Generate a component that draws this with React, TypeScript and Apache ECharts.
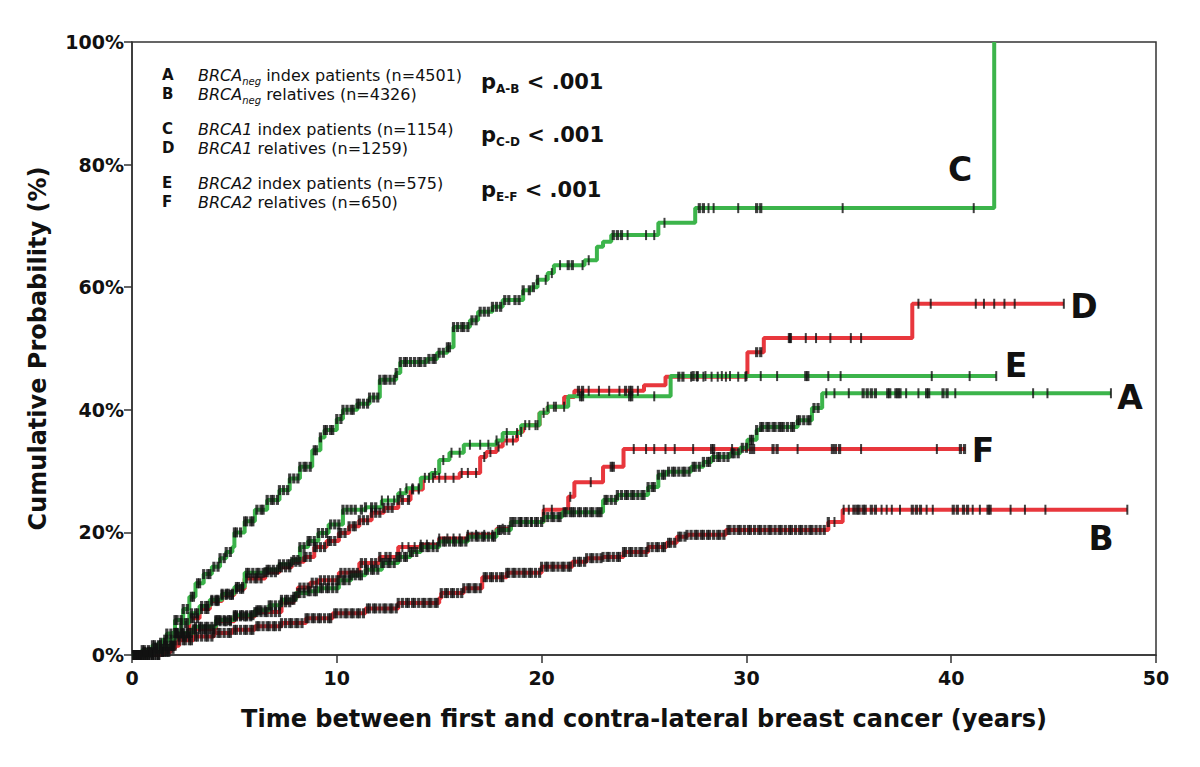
import React, { useEffect, useRef } from "react";
import * as echarts from "echarts";

// ---------- data (time in years, cumulative probability in %) ----------
const xTickValues = [0, 10, 20, 30, 40, 50];
const yTickValues = [0, 20, 40, 60, 80, 100];

// A: BRCAneg index patients (green)
const curveA: [number, number][] = [[0,0],[0.5,0.8],[1.0,1.6],[1.5,2.5],[2.1,3.6],[3.0,4.6],[4.1,5.7],[5.0,6.5],[6.0,7.3],[6.7,8.1],[7.3,9.0],[8.0,10.1],[8.6,10.4],[9.1,10.9],[10.1,12.2],[10.7,13.0],[11.4,13.9],[12.2,15.0],[13.0,16.0],[13.6,16.8],[14.1,17.6],[15.0,18.5],[16.4,19.3],[17.8,20.4],[18.5,21.7],[20.1,22.5],[21.0,23.3],[23.0,25.3],[23.7,26.1],[25.2,27.4],[25.7,29.4],[26.1,29.9],[27.3,30.7],[27.9,31.5],[28.3,32.3],[29.2,32.9],[29.7,33.8],[30.05,35.1],[30.5,36.7],[30.7,37.2],[32.5,38.3],[33.2,40.3],[33.7,42.7],[47.8,42.7]];
// B: BRCAneg relatives (red)
const curveB: [number, number][] = [[0,0],[0.5,0.4],[1.2,1.0],[2.1,2.4],[3.0,3.0],[4.0,3.6],[4.9,4.1],[6.0,4.7],[7.3,5.2],[8.5,6.0],[9.8,6.8],[11.4,7.6],[13.0,8.5],[15.0,9.3],[15.1,10.1],[16.2,10.9],[17.1,12.7],[18.3,13.4],[20.0,14.4],[21.5,15.2],[22.2,15.8],[23.0,16.0],[24.0,16.8],[25.2,17.6],[26.1,18.3],[26.6,19.3],[27.1,19.6],[29.0,20.4],[34.0,21.7],[34.7,23.7],[48.6,23.7]];
// C: BRCA1 index patients (green)
const curveC: [number, number][] = [[0,0],[0.5,0.5],[1.0,1.2],[1.3,2.0],[1.7,3.5],[2.1,5.7],[2.5,7.5],[2.8,9.5],[3.1,11.7],[3.5,13.2],[3.9,14.4],[4.3,15.8],[4.6,16.8],[4.9,17.6],[5.0,20.0],[5.5,21.8],[6.0,23.7],[6.6,25.3],[7.2,26.9],[7.7,28.8],[8.2,30.7],[8.8,33.4],[9.2,35.5],[9.4,36.7],[10.0,38.5],[10.3,40.0],[11.0,41.0],[11.6,42.0],[12.1,44.9],[12.9,46.0],[13.1,47.8],[14.4,48.3],[14.9,49.3],[15.4,50.2],[15.7,53.5],[16.5,54.6],[16.9,56.0],[17.6,56.8],[18.1,57.9],[19.1,59.5],[19.5,60.0],[19.8,61.2],[20.3,62.3],[20.6,63.6],[22.1,64.4],[22.7,66.6],[23.0,67.4],[23.4,68.5],[25.7,70.5],[27.5,72.9],[42.1,100]];
// D: BRCA1 relatives (red)
const curveD: [number, number][] = [[0,0],[1.5,0.5],[1.8,1.5],[2.2,3.5],[2.8,6.0],[3.3,7.5],[3.8,8.8],[4.4,9.8],[5.0,10.8],[5.5,12.5],[6.5,13.5],[7.2,14.3],[7.8,15.2],[8.4,16.0],[8.9,17.6],[9.5,18.6],[10.1,19.9],[10.6,21.0],[11.1,22.0],[11.7,23.2],[12.3,24.0],[13.0,25.3],[13.6,27.0],[14.2,28.9],[16.0,29.7],[17.0,32.3],[17.3,33.1],[17.8,34.0],[18.1,35.0],[18.8,36.4],[19.1,37.5],[19.9,39.5],[20.3,40.5],[21.1,42.1],[21.6,43.1],[25.0,44.0],[26.05,45.4],[30.05,49.4],[30.85,51.7],[38.1,57.3],[45.5,57.3]];
// E: BRCA2 index patients (green)
const curveE: [number, number][] = [[0,0],[1.0,0.5],[1.5,1.5],[1.95,3.6],[2.4,5.2],[2.8,6.8],[3.3,8.0],[3.8,9.0],[4.4,10.0],[5.0,11.1],[5.5,13.4],[6.5,13.9],[7.2,14.8],[7.8,15.5],[8.2,17.6],[8.6,18.6],[9.1,19.9],[9.6,21.3],[10.3,23.7],[11.4,24.1],[12.2,25.2],[13.0,26.4],[13.4,27.2],[14.1,28.9],[14.6,29.7],[15.0,31.8],[15.5,33.0],[16.2,34.3],[17.8,35.0],[18.1,36.2],[19.0,37.5],[19.9,39.5],[20.3,40.5],[21.3,42.2],[26.3,45.5],[42.2,45.5]];
// F: BRCA2 relatives (red)
const curveF: [number, number][] = [[0,0],[1.5,0.5],[1.9,1.5],[2.3,3.0],[3.0,4.2],[4.1,5.5],[5.0,6.3],[6.0,7.0],[7.3,8.6],[7.9,9.5],[8.1,11.0],[8.7,11.8],[9.1,12.2],[10.1,13.4],[11.1,15.0],[12.1,16.0],[13.0,17.6],[14.1,18.0],[15.0,19.0],[16.4,19.6],[17.8,20.6],[18.5,21.7],[20.1,23.7],[21.3,25.8],[21.6,28.2],[23.0,30.7],[24.0,33.6],[40.7,33.6]];

// censored observations, in tenths of a year
const censorA = [1,2,4,5,6,8,10,11,13,14,16,17,19,21,22,24,25,27,28,29,31,33,34,36,37,39,41,42,43,45,47,48,50,51,53,54,56,58,59,61,62,63,65,67,68,70,72,73,75,76,78,79,81,82,84,86,87,89,90,92,93,95,96,98,100,101,103,104,106,107,109,111,112,114,115,117,118,120,122,123,125,126,128,130,131,133,134,136,137,139,141,142,144,145,147,149,150,152,153,155,157,158,160,161,163,164,166,168,169,171,172,174,176,177,179,180,182,184,185,187,189,190,192,193,195,197,198,200,201,203,205,206,208,209,211,212,214,215,216,218,219,221,222,224,225,227,228,229,231,232,234,236,237,239,241,242,244,245,247,249,250,252,254,255,257,259,260,262,264,265,267,269,270,272,274,275,277,279,281,282,284,286,287,289,291,293,294,296,298,300,302,303,305,307,308,310,311,313,314,316,317,318,320,322,323,325,326,328,330,331,333,335,339,343,350,357,359,361,363,369,370,373,374,375,378,384,388,389,396,398,402,440,447,478];
const censorB = [1,3,4,6,7,9,10,12,14,15,17,18,20,21,23,25,26,28,29,31,32,34,36,37,39,40,42,43,45,47,48,50,51,53,55,56,58,59,61,62,64,66,67,69,70,72,73,75,77,78,80,81,83,85,86,88,89,91,92,94,96,97,99,100,102,104,105,107,108,110,111,113,115,116,118,119,121,123,124,126,127,129,130,132,134,135,137,138,140,142,143,145,146,148,149,151,153,154,156,157,159,161,162,164,165,167,168,170,172,173,175,176,178,180,181,183,184,186,187,189,191,192,194,195,197,199,200,202,203,205,206,208,210,211,213,214,216,218,219,221,222,224,225,227,229,230,232,233,235,237,238,240,241,243,244,246,248,249,251,252,254,256,257,259,260,262,263,265,267,268,270,271,273,275,276,278,279,281,282,284,286,287,289,291,292,294,296,297,299,301,302,304,306,307,309,311,312,314,316,317,319,321,322,324,326,327,329,331,332,334,336,338,340,343,347.5,350,352.5,354,355,357,358,361,363,366,368.5,371,375,381,383,385,388,391,401,403,406,408,410.5,414,418,419,429,436,446,486];
const censorC = [1,3,4,6,8,9,11,12,14,16,17,19,21,22,24,25,27,29,30,32,33,35,37,38,40,42,43,45,46,48,50,51,53,55,56,58,59,61,63,64,66,68,69,71,72,74,76,77,79,81,82,84,85,87,89,90,92,94,95,97,98,100,102,103,105,107,108,110,111,113,115,116,118,120,121,123,124,126,128,129,131,133,134,136,138,140,141,143,145,147,148,150,152,154,155,157,159,161,162,164,166,168,170,172,174,176,178,180,182,184,187,189,191,194,196,198,202,205,209,213,215,220,223,235,237,239,242,251,255,260,277,279,281.5,284,296,305,307,347,411];
const censorD = [2,3,5,7,8,10,12,13,15,17,19,20,22,24,25,27,29,30,32,34,36,37,39,41,42,44,46,48,49,51,53,54,56,58,60,61,63,65,66,68,70,72,73,75,77,78,80,82,84,85,87,89,90,92,94,96,97,99,101,102,104,106,108,109,111,113,115,117,119,121,123,125,127,130,132,135,137,140,143,147,150,153,157,161,164,168,172,175,179,183,186,190,194,198,203,207,218,220,223,228,233,238,241,243,244,247,267,269,273,276,279,283,286,290,296,299.5,305,307,321,321.5,329,334,341,351,356,384,390,412,416,421,426,431,455];
const censorE = [1,2,4,6,7,9,11,12,14,16,17,19,21,22,24,26,27,29,31,32,34,36,37,39,41,42,44,46,47,49,51,52,54,56,57,59,61,62,64,66,67,69,71,72,74,76,77,79,81,82,84,86,87,89,91,93,95,97,99,101,103,105,107,109,112,114,117,119,122,125,128,131,134,137,140,145,148,152,156,160,165,170,174,178,183,188,192,197,201,206,211,219,220,243,244,255,274,276,280,288,292,300,307,315,329,330,340,346,390.5,409,422];
const censorF = [2,3,5,6,8,10,11,13,15,16,18,20,21,23,25,26,28,30,31,33,35,36,38,40,41,43,45,46,48,50,51,53,55,56,58,60,61,63,65,66,68,70,72,73,75,77,79,80,82,84,86,88,90,92,94,96,98,100,102,104,106,108,110,112,114,117,119,121,124,126,129,132,135,138,141,144,147,150,154,157,160,164,168,172,176,181,186,190,195,201,205,214,224,234,235,245,251,255,260.5,265,274,283,284,293,302,303.5,313,315,325,342,343.5,345.5,356,393,404.5,406.5];

const legendRows = [
  { letter: "A", gene: "BRCA", sub: "neg", rest: " index patients (n=4501)" },
  { letter: "B", gene: "BRCA", sub: "neg", rest: " relatives (n=4326)" },
  { letter: "C", gene: "BRCA1", sub: "", rest: " index patients (n=1154)" },
  { letter: "D", gene: "BRCA1", sub: "", rest: " relatives (n=1259)" },
  { letter: "E", gene: "BRCA2", sub: "", rest: " index patients (n=575)" },
  { letter: "F", gene: "BRCA2", sub: "", rest: " relatives (n=650)" },
];
const pRows = [
  { pair: "A-B", text: " < .001" },
  { pair: "C-D", text: " < .001" },
  { pair: "E-F", text: " < .001" },
];

// ---------- styling ----------
const GREEN = "#3cb44b";
const RED = "#e8373d";
const FONT = "'DejaVu Sans', sans-serif";
const GRID = { left: 132, right: 44, top: 42, bottom: 112 };
const legendY = [75, 94, 129, 148, 183, 202];
const pY = [82, 135, 190];

function stepAt(curve: [number, number][], t: number): number {
  let v = curve[0][1];
  for (const [x, y] of curve) {
    if (x <= t) v = y;
    else break;
  }
  return v;
}

// each censor mark: [years, probability, mark width]; crowded marks are drawn a bit wider
function censorPoints(curve: [number, number][], tenths: number[]) {
  return tenths.map((t, i) => {
    const yr = t / 10;
    const prev = i > 0 ? t - tenths[i - 1] : 99;
    const next = i < tenths.length - 1 ? tenths[i + 1] - t : 99;
    const crowded = Math.min(prev, next) <= 2;
    return [yr, stepAt(curve, yr), crowded ? 3.2 : 2];
  });
}

const curves = [
  { id: "B", data: curveB, color: RED, censor: censorB, label: { x: 1101, y: 538 } },
  { id: "D", data: curveD, color: RED, censor: censorD, label: { x: 1084, y: 306 } },
  { id: "F", data: curveF, color: RED, censor: censorF, label: { x: 983, y: 450 } },
  { id: "A", data: curveA, color: GREEN, censor: censorA, label: { x: 1130, y: 397 } },
  { id: "E", data: curveE, color: GREEN, censor: censorE, label: { x: 1016, y: 365 } },
  { id: "C", data: curveC, color: GREEN, censor: censorC, label: { x: 960, y: 169 } },
];

function buildOption(): any {
  const lineSeries = curves.map((c) => ({
    type: "line",
    name: c.id,
    data: c.data,
    step: "end",
    showSymbol: false,
    symbol: "none",
    lineStyle: { color: c.color, width: 4 },
    z: 2,
    silent: true,
  }));
  const censorSeries = curves.map((c) => ({
    type: "scatter",
    name: c.id + " censored",
    data: censorPoints(c.data, c.censor),
    encode: { x: 0, y: 1 },
    symbol: "rect",
    symbolSize: (v: number[]) => [v[2], 10],
    itemStyle: { color: "#111" },
    z: 3,
    silent: true,
  }));

  const graphics: any[] = [];
  legendRows.forEach((r, i) => {
    graphics.push({
      type: "text",
      x: 162,
      y: legendY[i],
      style: {
        text: r.letter,
        font: `bold 15px ${FONT}`,
        fill: "#111",
        align: "left",
        verticalAlign: "middle",
      },
    });
    const txt = r.sub
      ? `{g|${r.gene}}{s|${r.sub}}{r|${r.rest}}`
      : `{g|${r.gene}}{r|${r.rest}}`;
    graphics.push({
      type: "text",
      x: 198,
      y: legendY[i],
      style: {
        text: txt,
        align: "left",
        verticalAlign: "middle",
        fill: "#111",
        rich: {
          g: { fontFamily: FONT, fontSize: 16, fontStyle: "italic", lineHeight: 22, fill: "#111" },
          s: { fontFamily: FONT, fontSize: 10, fontStyle: "italic", lineHeight: 10, verticalAlign: "bottom", fill: "#111" },
          r: { fontFamily: FONT, fontSize: 16, lineHeight: 22, fill: "#111" },
        },
      },
    });
  });
  pRows.forEach((p, i) => {
    graphics.push({
      type: "text",
      x: 481,
      y: pY[i],
      style: {
        text: `{p|p}{s|${p.pair}}{p|${p.text}}`,
        align: "left",
        verticalAlign: "middle",
        rich: {
          p: { fontFamily: FONT, fontSize: 21, fontWeight: "bold", lineHeight: 26, fill: "#111" },
          s: { fontFamily: FONT, fontSize: 12, fontWeight: "bold", lineHeight: 12, verticalAlign: "bottom", fill: "#111" },
        },
      },
    });
  });
  curves.forEach((c) => {
    graphics.push({
      type: "text",
      x: c.label.x,
      y: c.label.y,
      style: {
        text: c.id,
        font: `bold 33px ${FONT}`,
        fill: "#111",
        align: "center",
        verticalAlign: "middle",
      },
    });
  });

  return {
    animation: false,
    backgroundColor: "#fff",
    grid: {
      ...GRID,
      show: true,
      borderColor: "#333",
      borderWidth: 1.5,
      backgroundColor: "transparent",
      containLabel: false,
    },
    xAxis: {
      type: "value",
      min: xTickValues[0],
      max: xTickValues[xTickValues.length - 1],
      interval: 10,
      name: "Time between first and contra-lateral breast cancer (years)",
      nameLocation: "middle",
      nameGap: 52,
      nameTextStyle: { fontFamily: FONT, fontWeight: "bold", fontSize: 24, color: "#111" },
      axisLine: { show: true, onZero: false, lineStyle: { color: "#333", width: 1.5 } },
      axisTick: { show: true, inside: false, length: 8, lineStyle: { color: "#333", width: 1.5 } },
      axisLabel: { fontFamily: FONT, fontWeight: "bold", fontSize: 19, color: "#111", margin: 13 },
      splitLine: { show: false },
    },
    yAxis: {
      type: "value",
      min: yTickValues[0],
      max: yTickValues[yTickValues.length - 1],
      interval: 20,
      name: "Cumulative Probability (%)",
      nameLocation: "middle",
      nameRotate: 90,
      nameGap: 82,
      nameTextStyle: { fontFamily: FONT, fontWeight: "bold", fontSize: 24, color: "#111" },
      axisLine: { show: true, onZero: false, lineStyle: { color: "#333", width: 1.5 } },
      axisTick: { show: true, inside: false, length: 8, lineStyle: { color: "#333", width: 1.5 } },
      axisLabel: {
        fontFamily: FONT,
        fontWeight: "bold",
        fontSize: 19,
        color: "#111",
        margin: 8,
        formatter: (v: number) => `${v}%`,
      },
      splitLine: { show: false },
    },
    series: [...lineSeries, ...censorSeries],
    graphic: graphics,
  };
}

export default function App() {
  const ref = useRef<HTMLDivElement>(null);
  useEffect(() => {
    if (!ref.current) return;
    const chart = echarts.init(ref.current, null, { renderer: "svg" });
    chart.setOption(buildOption());
    return () => chart.dispose();
  }, []);
  return (
    <div
      ref={ref}
      style={{ position: "fixed", left: 0, top: 0, width: 1200, height: 767, background: "#fff" }}
    />
  );
}
